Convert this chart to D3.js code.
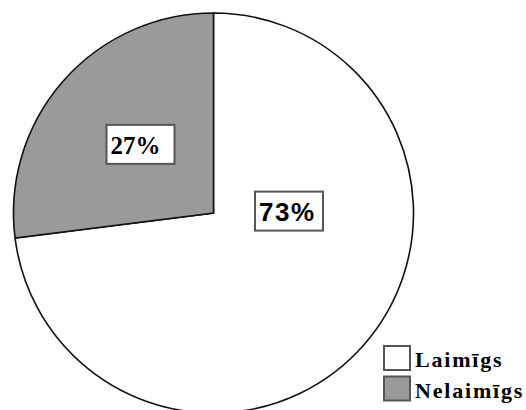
<!DOCTYPE html>
<html>
<head>
<meta charset="utf-8">
<script src="https://cdn.jsdelivr.net/npm/d3@7"></script>
<style>
  html, body { margin: 0; padding: 0; background: #fff; }
  svg { display: block; }
  .serif { font-family: "Liberation Serif", "Times New Roman", Times, serif; font-weight: 700; }
  .sans { font-family: "Liberation Sans", Arial, Helvetica, sans-serif; font-weight: 700; }
</style>
</head>
<body>
<svg id="chart" width="526" height="410"></svg>
<script>
// ---- data ----
const categories = ["Laimīgs", "Nelaimīgs"];
const values = [73, 27];
const labels = ["73%", "27%"];
const colors = ["#ffffff", "#9a9a9a"];

// ---- layout ----
const cx = 213.5, cy = 213, R = 200;
const svg = d3.select("#chart");

const pie = d3.pie().sort(null).startAngle(0).endAngle(2 * Math.PI);
const arcs = pie(values);
const arc = d3.arc().innerRadius(0).outerRadius(R);

const g = svg.append("g").attr("transform", `translate(${cx},${cy})`);

g.selectAll("path.slice")
  .data(arcs)
  .enter().append("path")
  .attr("class", "slice")
  .attr("d", arc)
  .attr("fill", (d, i) => colors[i])
  .attr("stroke", "#111")
  .attr("stroke-width", 1.6)
  .attr("stroke-linejoin", "miter");

// label anchors (box centres) per slice
function labelCenter(d, i) {
  if (i === 1) {
    const c = arc.centroid(d); // r/2 along mid-angle
    return [c[0] + 2, c[1] - 2.5];
  }
  return d3.pointRadial(Math.PI * 0.492, 75.5);
}
const labelFonts = [
  { cls: "sans", size: 26, ls: 1.5 },
  { cls: "serif", size: 25, ls: 0 }
];
const boxW = 68, boxH = 39;

arcs.forEach((d, i) => {
  const [x, y] = labelCenter(d, i);
  const lg = g.append("g").attr("transform", `translate(${x - boxW / 2},${y - boxH / 2})`);
  lg.append("rect")
    .attr("x", 0).attr("y", 0)
    .attr("width", boxW).attr("height", boxH)
    .attr("fill", "#fff")
    .attr("stroke", "#555")
    .attr("stroke-width", 2);
  const f = labelFonts[i];
  lg.append("text")
    .attr("class", f.cls)
    .attr("x", 4)
    .attr("y", 29.5)
    .style("font-size", f.size + "px")
    .style("letter-spacing", f.ls + "px")
    .attr("fill", "#000")
    .text(labels[i]);
});

// legend
const legend = svg.append("g").attr("transform", "translate(383,345)");
const leg = legend.selectAll("g.item")
  .data(categories)
  .enter().append("g")
  .attr("class", "item")
  .attr("transform", (d, i) => `translate(0,${i * 30.5})`);
leg.append("rect")
  .attr("x", 1).attr("y", 1)
  .attr("width", 26).attr("height", 24)
  .attr("fill", (d, i) => colors[i])
  .attr("stroke", "#555")
  .attr("stroke-width", 2);
leg.append("text")
  .attr("class", "serif")
  .attr("x", 32)
  .attr("y", 22)
  .style("font-size", "22px")
  .style("letter-spacing", "1.8px")
  .attr("fill", "#000")
  .text(d => d);
</script>
</body>
</html>
